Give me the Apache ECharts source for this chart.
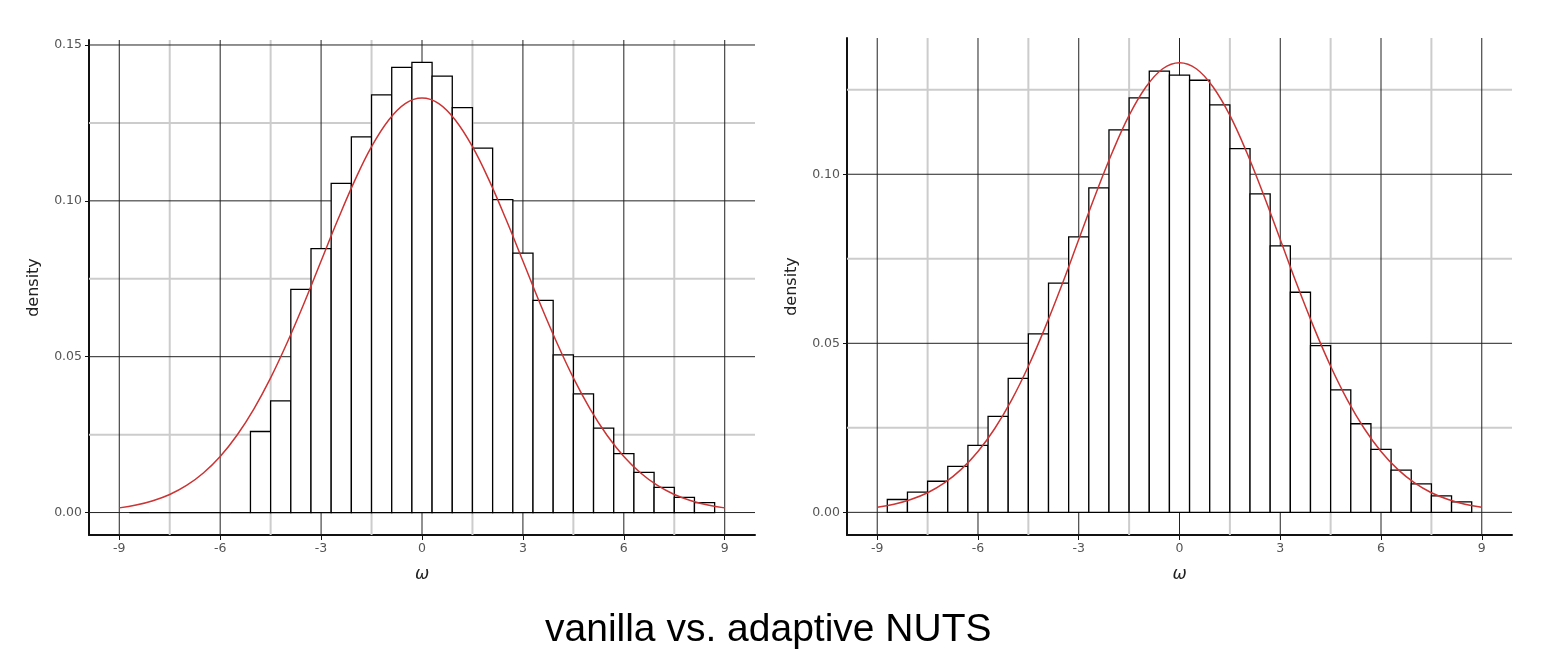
<!DOCTYPE html>
<html>
<head>
<meta charset="utf-8">
<script src="https://cdn.jsdelivr.net/npm/echarts@6/dist/echarts.min.js"></script>
<style>
html,body{margin:0;padding:0;background:#fff;}
#chart{width:1545px;height:653px;}
</style>
</head>
<body>
<div id="chart"></div>
<script>
// ---- data ----
const binCenters = [-8.4,-7.8,-7.2,-6.6,-6.0,-5.4,-4.8,-4.2,-3.6,-3.0,-2.4,-1.8,-1.2,-0.6,0.0,0.6,1.2,1.8,2.4,3.0,3.6,4.2,4.8,5.4,6.0,6.6,7.2,7.8,8.4];
const binWidth = 0.6;
const vanillaDensity = [0,0,0,0,0,0,0.0260,0.0358,0.0716,0.0847,0.1056,0.1205,0.1340,0.1428,0.1444,0.1400,0.1299,0.1169,0.1004,0.0832,0.0681,0.0506,0.0381,0.0271,0.0189,0.0129,0.0081,0.0049,0.0032];
const adaptiveDensity = [0.0038,0.0060,0.0092,0.0136,0.0198,0.0284,0.0396,0.0528,0.0678,0.0815,0.0960,0.1131,0.1226,0.1305,0.1293,0.1278,0.1205,0.1076,0.0942,0.0788,0.0651,0.0493,0.0362,0.0262,0.0186,0.0125,0.0084,0.0049,0.0031];
const curveX = [-9,-8.5,-8,-7.5,-7,-6.5,-6,-5.5,-5,-4.5,-4,-3.5,-3,-2.5,-2,-1.5,-1,-0.5,0,0.5,1,1.5,2,2.5,3,3.5,4,4.5,5,5.5,6,6.5,7,7.5,8,8.5,9];
const curveY = [0.0015,0.0024,0.0038,0.0058,0.0087,0.0127,0.0180,0.0248,0.0332,0.0432,0.0547,0.0673,0.0807,0.0940,0.1065,0.1174,0.1258,0.1312,0.1330,0.1312,0.1258,0.1174,0.1065,0.0940,0.0807,0.0673,0.0547,0.0432,0.0332,0.0248,0.0180,0.0127,0.0087,0.0058,0.0038,0.0024,0.0015];
const xMajorTicks = [-9,-6,-3,0,3,6,9];
const xMinorTicks = [-7.5,-4.5,-1.5,1.5,4.5,7.5];
const yMajorTicksLeft = [0,0.05,0.10,0.15];
const yMajorTicksRight = [0,0.05,0.10];
const yMinorTicks = [0.025,0.075,0.125];
const xRange = [-9.9, 9.9];
const yRangeLeft = [-0.0072, 0.1516];
const yRangeRight = [-0.0067, 0.1403];
const titleText = 'vanilla vs. adaptive NUTS';

const chart = echarts.init(document.getElementById('chart'), null, {renderer:'canvas'});

function xAxisDef(gi){
  return {
    type:'value', gridIndex:gi, min:xRange[0], max:xRange[1],
    name:'ω', nameLocation:'middle', nameGap:31,
    nameTextStyle:{fontFamily:'DejaVu Sans', fontStyle:'italic', fontSize:17, color:'#222'},
    axisLine:{show:true, onZero:false, lineStyle:{color:'#111', width:2}},
    axisTick:{show:true, length:5, customValues:xMajorTicks, lineStyle:{color:'#111', width:1}},
    axisLabel:{customValues:xMajorTicks, fontFamily:'DejaVu Sans', fontSize:12.5, color:'#555', margin:7},
    splitLine:{show:false}
  };
}
function yAxisDef(gi, range, ticks){
  return {
    type:'value', gridIndex:gi, min:range[0], max:range[1],
    name:'density', nameLocation:'middle', nameGap:47,
    nameTextStyle:{fontFamily:'DejaVu Sans', fontSize:16, color:'#222'},
    axisLine:{show:true, onZero:false, lineStyle:{color:'#111', width:2}},
    axisTick:{show:true, length:4, customValues:ticks, lineStyle:{color:'#111', width:1}},
    axisLabel:{customValues:ticks, fontFamily:'DejaVu Sans', fontSize:12.5, color:'#555', margin:7,
      formatter:v=>v.toFixed(2)},
    splitLine:{show:false}
  };
}
function gridSeries(gi, values, vertical, color, width, z){
  return {
    type:'custom', xAxisIndex:gi, yAxisIndex:gi, z:z, silent:true,
    data: values.map(v => vertical ? [v, 0] : [0, v]),
    renderItem:function(params, api){
      const cs = params.coordSys;
      if(vertical){
        const p = api.coord([api.value(0), 0]);
        return {type:'line', shape:{x1:p[0], y1:cs.y, x2:p[0], y2:cs.y+cs.height},
          style:{stroke:color, lineWidth:width}};
      } else {
        const p = api.coord([0, api.value(1)]);
        return {type:'line', shape:{x1:cs.x, y1:p[1], x2:cs.x+cs.width, y2:p[1]},
          style:{stroke:color, lineWidth:width}};
      }
    }
  };
}
function histSeries(gi, values){
  return {
    type:'custom', xAxisIndex:gi, yAxisIndex:gi, z:5, silent:true,
    data: binCenters.map((c,i)=>[c, values[i]]),
    renderItem:function(params, api){
      const c = api.value(0), v = api.value(1);
      const p0 = api.coord([c - binWidth/2, v]);
      const p1 = api.coord([c + binWidth/2, 0]);
      return {type:'rect', shape:{x:p0[0], y:p0[1], width:p1[0]-p0[0], height:p1[1]-p0[1]},
        style:{fill:'#fff', stroke:'#000', lineWidth:1.3}};
    }
  };
}
function curveSeries(gi){
  return {
    type:'line', xAxisIndex:gi, yAxisIndex:gi, z:10, silent:true,
    data: curveX.map((x,i)=>[x, curveY[i]]),
    smooth:0.4, showSymbol:false, symbol:'none',
    lineStyle:{color:'#cc3333', width:1.5}
  };
}

const option = {
  backgroundColor:'#fff',
  animation:false,
  title:{text:titleText, left:540, top:606,
    textStyle:{fontFamily:'Liberation Sans', fontSize:39, fontWeight:'normal', color:'#000'}},
  grid:[
    {left:89, top:40, width:666, height:495},
    {left:847, top:38, width:665, height:497}
  ],
  xAxis:[xAxisDef(0), xAxisDef(1)],
  yAxis:[yAxisDef(0, yRangeLeft, yMajorTicksLeft), yAxisDef(1, yRangeRight, yMajorTicksRight)],
  series:[
    gridSeries(0, xMinorTicks, true, '#cccccc', 2, 1),
    gridSeries(0, yMinorTicks, false, '#cccccc', 2, 1),
    gridSeries(0, xMajorTicks, true, '#222', 1, 2),
    gridSeries(0, yMajorTicksLeft, false, '#222', 1, 2),
    histSeries(0, vanillaDensity),
    curveSeries(0),
    gridSeries(1, xMinorTicks, true, '#cccccc', 2, 1),
    gridSeries(1, yMinorTicks, false, '#cccccc', 2, 1),
    gridSeries(1, xMajorTicks, true, '#222', 1, 2),
    gridSeries(1, yMajorTicksRight, false, '#222', 1, 2),
    histSeries(1, adaptiveDensity),
    curveSeries(1)
  ]
};
chart.setOption(option);
</script>
</body>
</html>
